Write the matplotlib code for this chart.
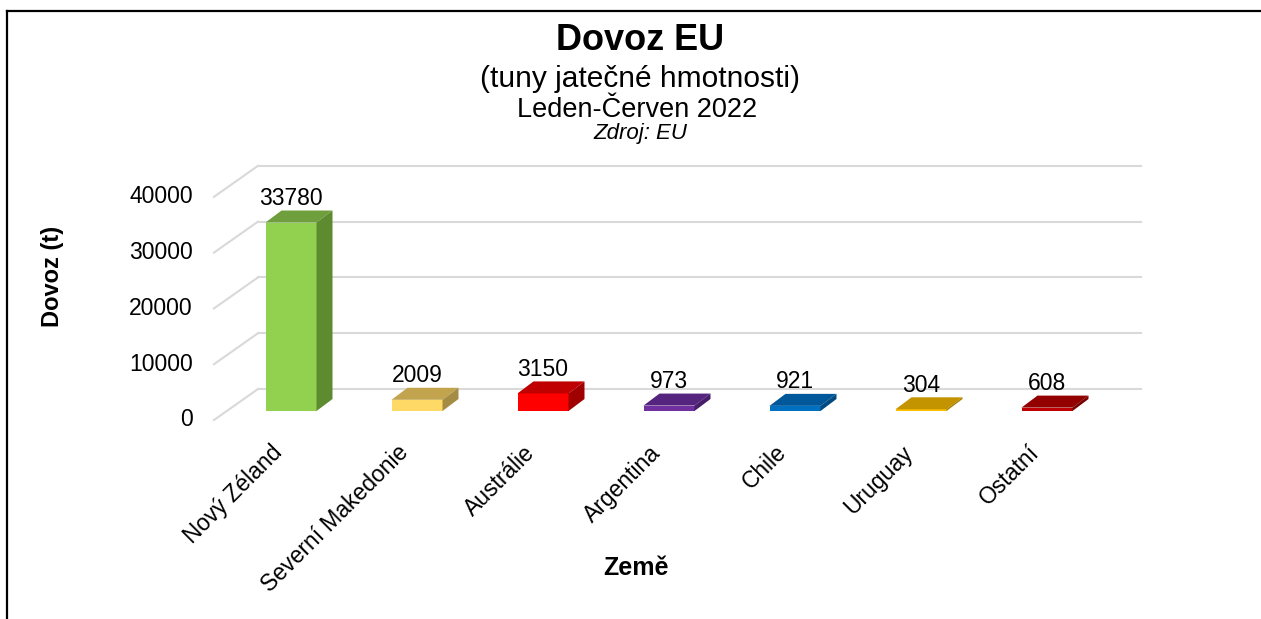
import matplotlib
matplotlib.use("Agg")
import matplotlib.pyplot as plt
from matplotlib.patches import Polygon
from matplotlib.lines import Line2D

plt.rcParams['font.family'] = ['Liberation Sans', 'DejaVu Sans']

# ---- data ----
categories = ["Nový Zéland", "Severní Makedonie", "Austrálie", "Argentina",
              "Chile", "Uruguay", "Ostatní"]
values = [33780, 2009, 3150, 973, 921, 304, 608]
front_colors = ["#92D050", "#FFD966", "#FF0000", "#7030A0", "#0070C0", "#FFC000", "#C00000"]
top_colors = ["#6F9F3C", "#C2A44E", "#C00000", "#55247E", "#00589A", "#C49300", "#920000"]
side_colors = ["#5E8A30", "#A58C45", "#A00000", "#461D69", "#004A80", "#A57C00", "#7A0000"]
yticks = [0, 10000, 20000, 30000, 40000]

W, H = 1261, 619
fig = plt.figure(figsize=(W / 100, H / 100), dpi=100)

# axes region in pixels (layout)
L, R, T, B = 214, 1141, 150, 430
ax = fig.add_axes([L / W, (H - B) / H, (R - L) / W, (B - T) / H])
x0_px, step_px = 291, 126          # first category centre, spacing
base_px, ppu = 411, 0.00558        # baseline of bar fronts, pixels per unit
ax.set_xlim((L - x0_px) / step_px, (R - x0_px) / step_px)
ax.set_ylim((base_px - B) / ppu, (base_px - T) / ppu)
ax.axis('off')

sx = step_px          # pixels per category unit
sy = ppu              # pixels per value unit

def px(dx):
    return dx / sx

def py(dy):
    return dy / sy

xmin, xmax = ax.get_xlim()

# walls / gridlines
grid_c = "#D9D9D9"
wall_dx, wall_dy = 44, 22     # back wall offset (px)
front_dy = -9                 # axis front edge offset (px)
for t in yticks:
    ax.add_line(Line2D([xmin + px(wall_dx), xmax], [t + py(wall_dy)] * 2,
                       color=grid_c, lw=1.5, clip_on=False, zorder=1))
    ax.add_line(Line2D([xmin, xmin + px(wall_dx)], [t + py(front_dy), t + py(wall_dy)],
                       color=grid_c, lw=1.5, clip_on=False, zorder=1))
    ax.text(xmin - px(21), t + py(front_dy), f"{t}", ha='right', va='center',
            fontsize=16.5, color='black', clip_on=False)

# bars
bw = px(51)
d_x, d_y = px(16), py(12)
for i, (v, fc, tc, sc) in enumerate(zip(values, front_colors, top_colors, side_colors)):
    xl, xr = i - bw / 2, i + bw / 2
    ax.add_patch(Polygon([(xl, 0), (xr, 0), (xr, v), (xl, v)], closed=True,
                         facecolor=fc, edgecolor='none', zorder=3))
    ax.add_patch(Polygon([(xl, v), (xr, v), (xr + d_x, v + d_y), (xl + d_x, v + d_y)],
                         closed=True, facecolor=tc, edgecolor='none', zorder=3))
    ax.add_patch(Polygon([(xr, 0), (xr, v), (xr + d_x, v + d_y), (xr + d_x, d_y)],
                         closed=True, facecolor=sc, edgecolor='none', zorder=3))
    ax.text(i, v + d_y + py(5.5), f"{v}", ha='center', va='baseline',
            fontsize=16.5, color='black', zorder=4, clip_on=False)
    ax.text(i - px(20), py(-30), categories[i], rotation=45, rotation_mode='anchor',
            ha='right', va='top', fontsize=16.5, color='black', clip_on=False)

# titles
cx = 640 / W
fig.text(cx, 1 - 50 / H, "Dovoz EU", ha='center', va='baseline', fontsize=26, fontweight='bold')
fig.text(cx, 1 - 87 / H, "(tuny jatečné hmotnosti)", ha='center', va='baseline', fontsize=21.5)
fig.text(637.5 / W, 1 - 117 / H, "Leden-Červen 2022", ha='center', va='baseline', fontsize=19.5)
fig.text(cx, 1 - 139 / H, "Zdroj: EU", ha='center', va='baseline', fontsize=16, style='italic')

fig.text(53 / W, 1 - 276 / H, "Dovoz (t)", ha='center', va='center', rotation=90,
         fontsize=17, fontweight='bold')
fig.text(636 / W, 1 - 575 / H, "Země", ha='center', va='baseline', fontsize=18, fontweight='bold')

# outer border (top and left visible)
fig.add_artist(Line2D([7 / W, 1], [1 - 11 / H] * 2, transform=fig.transFigure,
                      color='black', lw=1.6))
fig.add_artist(Line2D([7 / W] * 2, [0, 1 - 11 / H], transform=fig.transFigure,
                      color='black', lw=1.6))

fig.savefig("out.png", dpi=100)
